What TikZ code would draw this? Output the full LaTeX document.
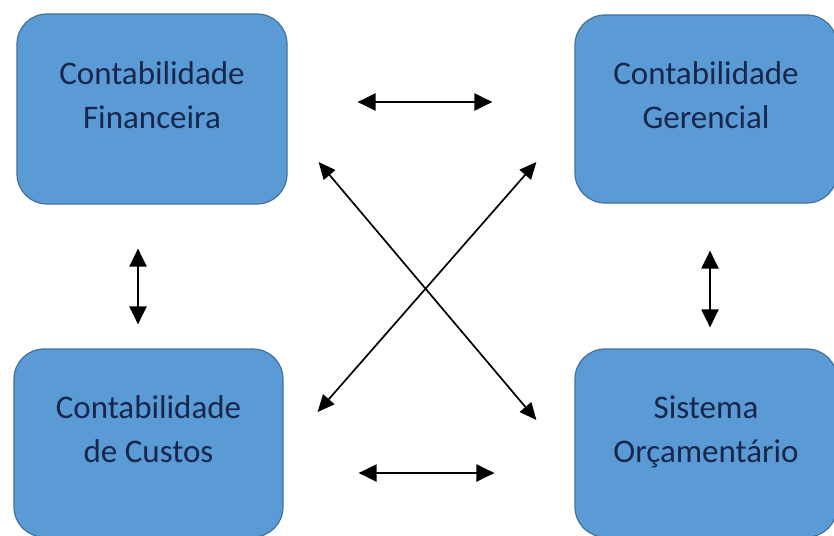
\documentclass[tikz,border=0pt]{standalone}
\usepackage{fontspec}
\setmainfont{Carlito}
\usetikzlibrary{arrows.meta}
\definecolor{boxblue}{HTML}{5B9BD5}
\definecolor{boxedge}{HTML}{41719C}
\definecolor{textnavy}{HTML}{17264A}

\begin{document}
\begin{tikzpicture}[x=1pt,y=-1pt,
boxnode/.style={rectangle, rounded corners=30pt, draw=boxedge, fill=boxblue, line width=1.2pt, minimum width=266pt, minimum height=189pt, align=center, text=textnavy, font=\fontsize{33}{44}\selectfont, text height=69pt, text depth=31pt, inner sep=0pt},
arrowline/.style={{Triangle[length=18pt,width=17pt]}-{Triangle[length=18pt,width=17pt]}, line width=2.2pt},
crossline/.style={{Triangle[length=17pt,width=15pt]}-{Triangle[length=17pt,width=15pt]}, line width=1.7pt}
]
    \useasboundingbox[fill=white] (0,0) rectangle (834,535);

    \node[boxnode, minimum width=270pt, minimum height=190pt] (fin) at (152,109) {Contabilidade\\Financeira};
    \node[boxnode, minimum width=262pt, minimum height=188pt] (ger) at (706,109) {Contabilidade\\Gerencial};
    \node[boxnode, minimum width=269pt, minimum height=188pt] (cus) at (148.5,443) {Contabilidade\\de Custos};
    \node[boxnode, minimum width=262pt, minimum height=188pt] (orc) at (706,443) {Sistema\\Orçamentário};

    \draw[arrowline, shorten <=70pt, shorten >=82pt] ([yshift=7pt]fin.east) -- ([yshift=7pt]ger.west);
    \draw[arrowline, shorten <=75pt, shorten >=80pt] ([yshift=-30pt]cus.east) -- ([yshift=-30pt]orc.west);
    \draw[arrowline, shorten <=44pt, shorten >=24pt] ([xshift=-14pt]fin.south) -- ([xshift=-10.5pt]cus.north);
    \draw[arrowline, shorten <=47pt, shorten >=21pt] ([xshift=4pt]ger.south) -- ([xshift=4pt]orc.north);

    \draw[crossline] ([shift={(31,53)}]fin.east) -- ([shift={(-38,-23)}]orc.west);
    \draw[crossline] ([shift={(34,-31)}]cus.east) -- ([shift={(-38,53)}]ger.west);
\end{tikzpicture}
\end{document}
